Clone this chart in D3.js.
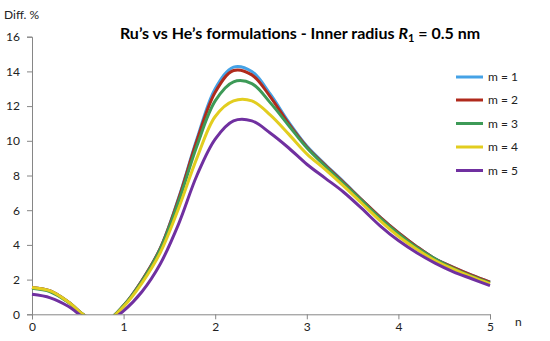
<!DOCTYPE html>
<html><head><meta charset="utf-8">
<script src="https://cdn.jsdelivr.net/npm/d3@7"></script>
<style>body{margin:0;background:#fff}svg{display:block}text{font-family:Lato,"Liberation Sans",sans-serif}</style>
</head><body><svg id="c" width="550" height="341"></svg>
<script>
const nVals = [0,0.2,0.4,0.6,0.8,1.0,1.2,1.4,1.6,1.8,2.0,2.2,2.4,2.6,2.8,3.0,3.2,3.4,3.6,3.8,4.0,4.2,4.4,4.6,4.8,5.0];
const m1 = [1.55,1.35,0.7,-0.15,-0.4,0.5,1.95,3.8,6.7,10.1,13.0,14.25,14.0,12.7,11.1,9.7,8.65,7.65,6.6,5.6,4.7,3.9,3.2,2.7,2.25,1.85];
const m2 = [1.55,1.35,0.7,-0.15,-0.4,0.5,1.95,3.8,6.65,10.0,12.8,14.05,13.8,12.55,11.0,9.65,8.6,7.6,6.6,5.6,4.7,3.9,3.2,2.7,2.25,1.85];
const m3 = [1.5,1.3,0.68,-0.15,-0.4,0.5,1.9,3.75,6.5,9.7,12.3,13.4,13.3,12.2,10.9,9.6,8.55,7.55,6.55,5.55,4.65,3.85,3.2,2.65,2.2,1.8];
const m4 = [1.55,1.35,0.7,-0.15,-0.4,0.45,1.8,3.55,6.1,9.0,11.4,12.3,12.3,11.5,10.4,9.25,8.35,7.4,6.4,5.4,4.5,3.75,3.1,2.6,2.15,1.75];
const m5 = [1.15,0.95,0.45,-0.3,-0.5,0.2,1.3,2.9,5.2,8.0,10.1,11.15,11.15,10.45,9.6,8.65,7.85,7.05,6.1,5.1,4.25,3.55,2.95,2.45,2.05,1.65];
const seriesNames = ["m = 1","m = 2","m = 3","m = 4","m = 5"];
const seriesColors = ["#45a2e6","#b02a1c","#3d9a57","#e2cd1f","#7030a0"];
const xTicks = [0,1,2,3,4,5];
const yTicks = [0,2,4,6,8,10,12,14,16];
const allSeries = [m1,m2,m3,m4,m5];

const svg = d3.select("#c");
const x = d3.scaleLinear().domain([0,5]).range([32,490]);
const y = d3.scaleLinear().domain([0,16]).range([314.3,36.7]);

svg.append("defs").append("clipPath").attr("id","clip")
  .append("rect").attr("x",x(0)-2).attr("y",y(16)).attr("width",x(5)-x(0)+4).attr("height",y(0)-y(16));

const axisColor = "#868686";
const gx = svg.append("g").attr("transform",`translate(0,${y(0)})`)
  .call(d3.axisBottom(x).tickValues(xTicks).tickSize(5).tickPadding(3).tickFormat(d3.format("d")));
const gy = svg.append("g").attr("transform",`translate(${x(0)},0)`)
  .call(d3.axisLeft(y).tickValues(yTicks).tickSize(5).tickPadding(7).tickFormat(d3.format("d")));
[gx,gy].forEach(g=>{
  g.selectAll("path").attr("stroke",axisColor).attr("stroke-width",1);
  g.selectAll("line").attr("stroke",axisColor);
  g.selectAll("text").attr("fill","#222").style("font-size","12px").style("font-family","Lato, sans-serif");
});

const line = d3.line().x((d,i)=>x(nVals[i])).y(d=>y(d)).curve(d3.curveCatmullRom.alpha(0.5));
const plot = svg.append("g").attr("clip-path","url(#clip)");
allSeries.forEach((s,k)=>{
  plot.append("path").datum(s).attr("d",line).attr("fill","none")
    .attr("stroke",seriesColors[k]).attr("stroke-width",3).attr("stroke-linejoin","round");
});

// legend
const legY = [77,100,123.5,147,170.5];
seriesNames.forEach((nm,k)=>{
  svg.append("line").attr("x1",456).attr("x2",483).attr("y1",legY[k]).attr("y2",legY[k])
    .attr("stroke",seriesColors[k]).attr("stroke-width",3);
  svg.append("text").attr("x",488).attr("y",legY[k]).attr("dy","0.35em")
    .style("font-size","12px").attr("fill","#222").text(nm);
});

svg.append("text").attr("x",4).attr("y",15).attr("dy","0.35em").style("font-size","12px").attr("fill","#222").text("Diff. %");
svg.append("text").attr("x",515).attr("y",322).attr("dy","0.35em").style("font-size","12px").attr("fill","#222").text("n");

const title = svg.append("text").attr("x",300).attr("y",33).attr("dy","0.35em").attr("text-anchor","middle")
  .style("font-size","16px").style("font-weight","bold").attr("fill","#000");
title.append("tspan").text("Ru’s vs He’s formulations - Inner radius ");
title.append("tspan").style("font-style","italic").text("R");
title.append("tspan").attr("baseline-shift","-25%").style("font-size","11px").text("1");
title.append("tspan").text(" = 0.5 nm");
</script></body></html>
